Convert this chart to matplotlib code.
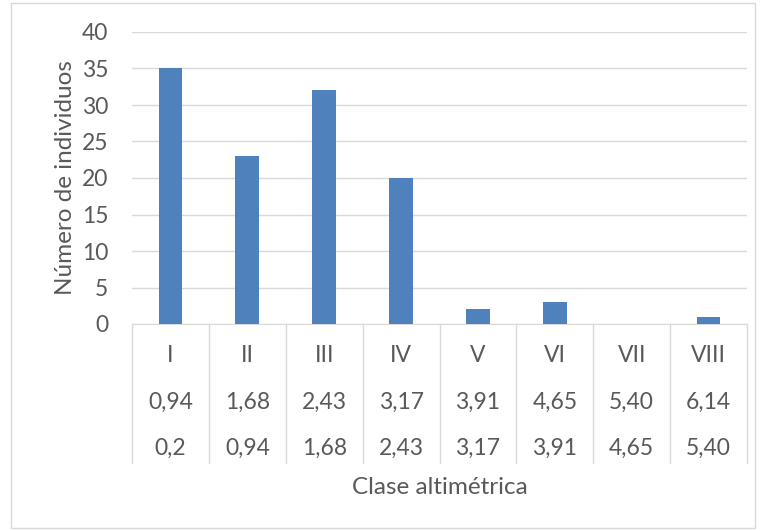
import matplotlib.pyplot as plt
import matplotlib.patches as mpatches
import matplotlib.transforms as mtransforms

# Data
CLASSES = ['I', 'II', 'III', 'IV', 'V', 'VI', 'VII', 'VIII']
UPPER = ['0,94', '1,68', '2,43', '3,17', '3,91', '4,65', '5,40', '6,14']
LOWER = ['0,2', '0,94', '1,68', '2,43', '3,17', '3,91', '4,65', '5,40']
COUNTS = [35, 23, 32, 20, 2, 3, 0, 1]
Y_TICKS = [0, 5, 10, 15, 20, 25, 30, 35, 40]

BAR_COLOR = '#4F81BD'
GRID_COLOR = '#D9D9D9'
TEXT_COLOR = '#595959'
FONT = 'Lato'
FS = 16.5
TITLE_FS = 17.5

W, H = 764, 531
fig = plt.figure(figsize=(W / 100, H / 100), dpi=100)

# outer chart border
fig.patches.append(mpatches.Rectangle((11 / W, 1 - 528 / H), 744 / W, 525 / H,
                                      transform=fig.transFigure, fill=False,
                                      edgecolor=GRID_COLOR, linewidth=1))

# plot area
x0, x1, y0, y1 = 132, 747, 324, 32
ax = fig.add_axes([x0 / W, 1 - y0 / H, (x1 - x0) / W, (y0 - y1) / H])

n = len(CLASSES)
ax.bar(range(n), COUNTS, width=0.31, color=BAR_COLOR, zorder=3)
ax.set_xlim(-0.5, n - 0.5)
ax.set_ylim(0, 40)
ax.set_yticks(Y_TICKS)
ax.grid(axis='y', color=GRID_COLOR, linewidth=1, zorder=0)
ax.set_axisbelow(True)
for side in ['top', 'right', 'left']:
    ax.spines[side].set_visible(False)
ax.spines['bottom'].set_color(GRID_COLOR)
ax.set_xticks([])
ax.tick_params(axis='y', length=0, pad=17, labelsize=FS, labelcolor=TEXT_COLOR)
for lbl in ax.get_yticklabels():
    lbl.set_fontfamily(FONT)

# multi-level category table below the axis
trans = mtransforms.blended_transform_factory(ax.transData, ax.transAxes)
ph = y0 - y1
bottom = -(463 - y0) / ph
for i in range(n + 1):
    ax.plot([i - 0.5, i - 0.5], [0, bottom], transform=trans, color=GRID_COLOR,
            linewidth=1, clip_on=False)
rows = [(CLASSES, 356), (UPPER, 402), (LOWER, 448)]
for labels, ypix in rows:
    for i, lab in enumerate(labels):
        ax.text(i, -(ypix - y0) / ph, lab, transform=trans, ha='center', va='center',
                fontsize=FS, color=TEXT_COLOR, family=FONT)

fig.text(440 / W, 1 - 487 / H, 'Clase altimétrica', ha='center', va='center',
         fontsize=TITLE_FS, color=TEXT_COLOR, family=FONT)
fig.text(65 / W, 1 - 178 / H, 'Número de individuos', ha='center', va='center',
         rotation=90, fontsize=TITLE_FS, color=TEXT_COLOR, family=FONT)

fig.savefig('out.png', dpi=100, facecolor='white')
